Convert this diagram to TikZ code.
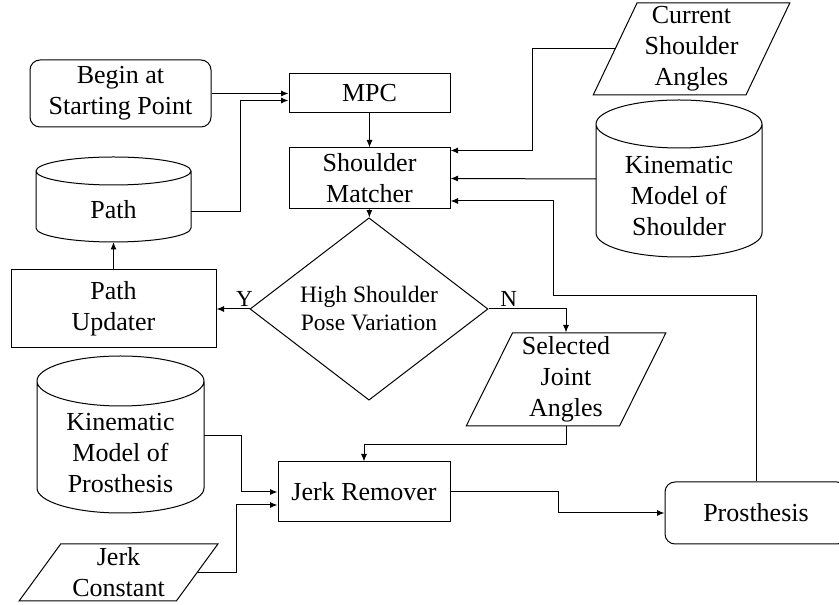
\documentclass[tikz,border=0pt]{standalone}
\usepackage{fontspec}
\setmainfont{Liberation Serif}
\usetikzlibrary{shapes.geometric, arrows.meta, positioning, calc}

% outline of a data store around node #1, cap radius #2 (cap centre sits #2/2 above the node)
\newcommand{\drum}[2]{%
  \draw[line width=1pt] let \p1=(#1.north west), \p2=(#1.south east), \n1={(\x2-\x1)/2} in
    (\x1,\y1+#2pt/2) -- (\x1,\y2+#2pt) arc[start angle=180, end angle=360, x radius=\n1*1pt, y radius=#2pt]
    -- (\x2,\y1+#2pt/2) arc[start angle=0, end angle=180, x radius=\n1*1pt, y radius=#2pt]
    arc[start angle=180, end angle=360, x radius=\n1*1pt, y radius=#2pt];}

\begin{document}
\begin{tikzpicture}[x=1pt, y=1pt, every node/.style={draw=black, line width=1pt, align=center, inner sep=2pt, font=\fontsize{26}{31}\selectfont},
  box/.style={rectangle},
  start/.style={rectangle, rounded corners=10pt},
  io/.style={trapezium, trapezium left angle=66, trapezium right angle=114, trapezium stretches=true, inner sep=0pt},
  store/.style={rectangle, draw=none, outer sep=0pt},
  decide/.style={diamond, inner sep=0pt, font=\fontsize{23.5}{28}\selectfont},
  tag/.style={draw=none, fill=none, font=\fontsize{23}{27}\selectfont},
  arr/.style={-{Latex[length=7.5pt,width=6pt]}, line width=1pt}]
\useasboundingbox (0,0) rectangle (839,605);

\node[start, minimum width=181pt, minimum height=67pt] (begin) at (120.5,511.5) {Begin at\\Starting Point};
\node[box, minimum width=161pt, minimum height=39pt] (mpc) at (369.5,511.5) {MPC};
\node[box, minimum width=161pt, minimum height=61pt] (match) at (369.5,426.5) {Shoulder\\Matcher};
\node[store, minimum width=155pt, minimum height=64pt] (path) at (113.5,395) {Path};
\node[box, minimum width=205pt, minimum height=78pt] (updater) at (113.5,296) {Path\\Updater};
\node[decide, minimum width=238pt, minimum height=140pt] (pose) at (369,296) {High Shoulder\\Pose Variation};
\node[io, minimum width=200pt, minimum height=93pt] (joints) at (566,225.5) {Selected\\Joint\\Angles};
\node[io, minimum width=197pt, minimum height=92pt] (current) at (691.5,556) {Current\\Shoulder\\Angles};
\node[store, minimum width=166pt, minimum height=121pt] (shmodel) at (679,408.5) {Kinematic\\Model of\\Shoulder};
\node[store, minimum width=167pt, minimum height=119.5pt] (prmodel) at (120.5,151.75) {Kinematic\\Model of\\Prosthesis};
\node[io, trapezium left angle=56, trapezium right angle=124, minimum width=199pt, minimum height=57pt] (jerk) at (118.5,32.5) {Jerk\\Constant};
\node[box, minimum width=172pt, minimum height=60pt] (remover) at (364,113) {Jerk Remover};
\node[start, minimum width=182pt, minimum height=62pt] (prosthesis) at (756,92) {Prosthesis};

\drum{path}{14}
\drum{shmodel}{24}
\drum{prmodel}{25}

\draw[arr] (begin) -- (mpc);
\draw[arr] ([yshift=-2pt]path.east) -- ++(49,0) |- ([yshift=-7pt]mpc.west);
\draw[arr] (mpc) -- (match);
\draw[arr] (current.west) -- ++(-82,0) |- ([yshift=28pt]match.east);
\draw[arr] ([yshift=17.5pt]shmodel.west) -- (match.east);
\draw[arr] (prosthesis.north) -- ++(0,186) -| ([xshift=103pt,yshift=-22.5pt]match.east) -- ([yshift=-22.5pt]match.east);
\draw[arr] (match) -- (pose);
\draw[arr] (pose.west) -- (updater.east) node[tag, pos=0.15, above] {Y};
\draw[arr] (updater) -- (path);
\draw[arr] (pose.east) -| (joints.north) node[tag, pos=0.13, above] {N};
\draw[arr] (joints.south) -- ++(0,-18) -| (remover.north);
\draw[arr] ([yshift=18pt]prmodel.east) -- ++(37,0) |- (remover.west);
\draw[arr] (jerk.east) -- ++(39,0) |- ([yshift=-13pt]remover.west);
\draw[arr] (remover.east) -- ++(108,0) |- (prosthesis.west);
\end{tikzpicture}
\end{document}
